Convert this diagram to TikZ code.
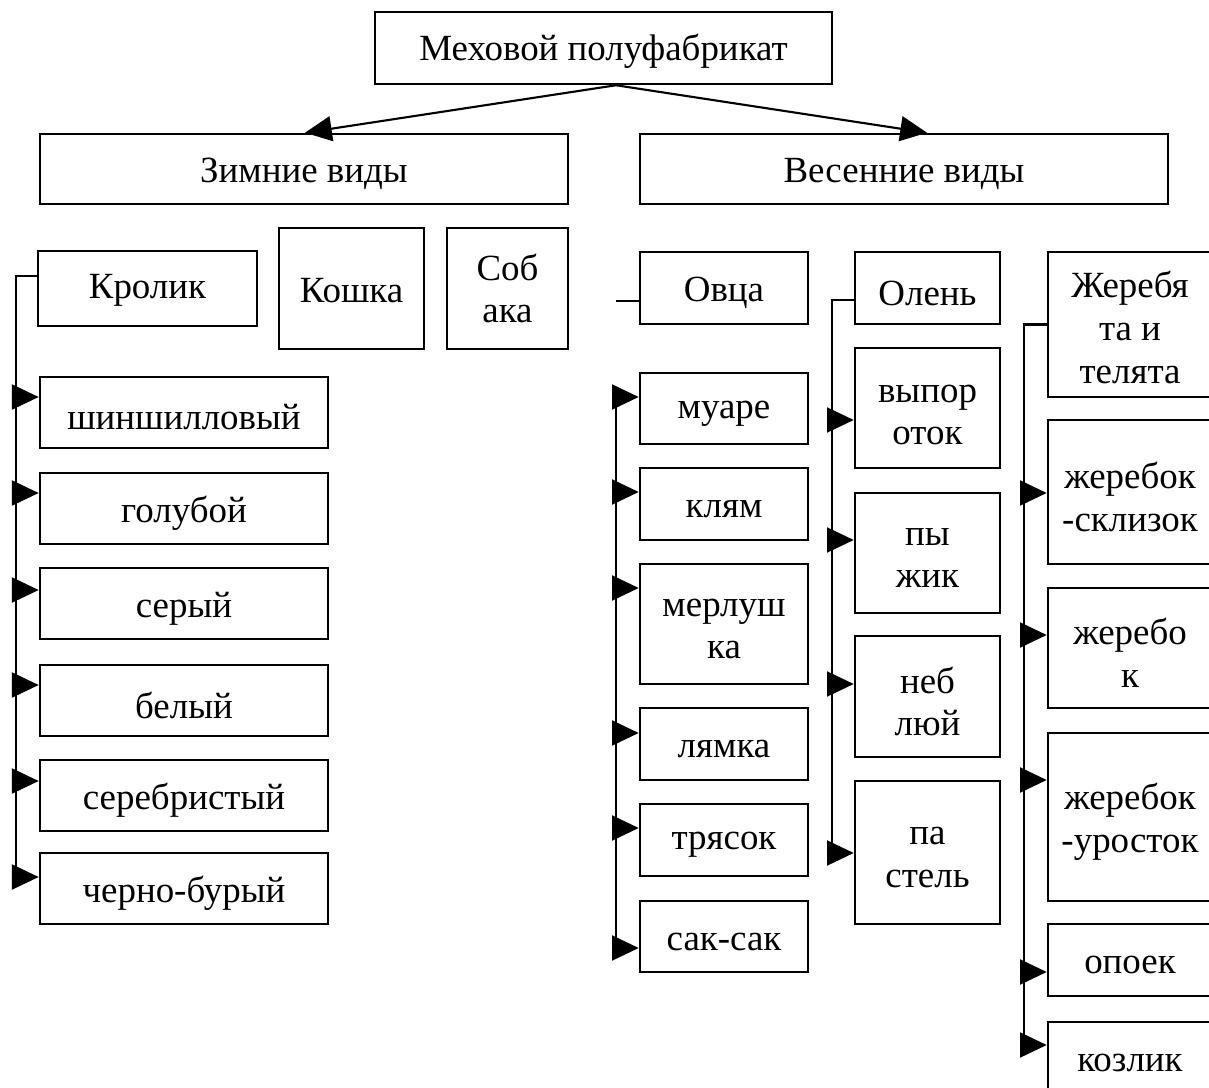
\documentclass[tikz,border=0pt]{standalone}
\usepackage{fontspec}
\setmainfont{Liberation Serif}
\usetikzlibrary{arrows.meta}

\begin{document}
\begin{tikzpicture}[x=0.01cm,y=-0.01cm,font=\fontsize{10.5pt}{12.2pt}\selectfont,
  furbox/.style={draw,line width=0.7pt,inner sep=0pt},
  furtext/.style={align=center,yshift=-0.05cm},
  link/.style={line width=0.6pt},
  feed/.style={line width=0.6pt,-{Triangle[length=7.6pt,width=7.1pt]}}]
  \useasboundingbox (0,0) rectangle (1209,1088);
  \clip (0,0) rectangle (1209,1088);

  % top level
  \node[furbox,minimum width=4.57cm,minimum height=0.72cm,label={[furtext,yshift=0.02cm]center:Меховой полуфабрикат}] (top) at (603.5,48) {};
  \node[furbox,minimum width=5.28cm,minimum height=0.70cm,label={[furtext]center:Зимние виды}] (zim) at (304,169) {};
  \node[furbox,minimum width=5.28cm,minimum height=0.70cm,label={[furtext]center:Весенние виды}] (ves) at (904,169) {};
  \draw[feed] (top.south -| 616,0) -- (zim.north -| 305,0);
  \draw[feed] (top.south -| 616,0) -- (ves.north -| 927,0);

  % winter kinds
  \node[furbox,minimum width=2.19cm,minimum height=0.75cm,label={[furtext,yshift=0.03cm]center:Кролик}] (krol) at (147.5,288.5) {};
  \node[furbox,minimum width=1.45cm,minimum height=1.21cm,label={[furtext,yshift=0.03cm]center:Кошка}] (kosh) at (351.5,288.5) {};
  \node[furbox,minimum width=1.21cm,minimum height=1.21cm,label={[furtext,yshift=0.05cm]center:Соб\\ака}] (sob) at (507.5,288.5) {};
  \draw[link] (krol.west |- 0,276) -- (16,276) -- (16,877);
  \foreach \nm/\txt/\yc/\ya in {shin/шиншилловый/412.5/397, golub/голубой/508.5/493,
      ser/серый/603.5/590, bel/белый/700.5/685, sereb/серебристый/795.5/781,
      chern/черно-бурый/888.5/877} {
    \node[furbox,minimum width=2.88cm,minimum height=0.71cm,label={[furtext]center:\txt}] (\nm) at (184,\yc) {};
    \draw[feed] (16,\ya) -- (\nm.west |- 0,\ya);
  }

  % sheep
  \node[furbox,minimum width=1.68cm,minimum height=0.72cm,label={[furtext]center:Овца}] (ovca) at (724,288) {};
  \draw[link] (ovca.west |- 0,301) -- (616,301);
  \node[furbox,minimum width=1.68cm,minimum height=0.71cm,label={[furtext]center:муаре}] (muare) at (724,408.5) {};
  \node[furbox,minimum width=1.68cm,minimum height=0.72cm,label={[furtext]center:клям}] (klyam) at (724,504) {};
  \node[furbox,minimum width=1.68cm,minimum height=1.20cm,label={[furtext]center:мерлуш\\ка}] (merl) at (724,624) {};
  \node[furbox,minimum width=1.68cm,minimum height=0.72cm,label={[furtext]center:лямка}] (lyamka) at (724,744) {};
  \node[furbox,minimum width=1.68cm,minimum height=0.72cm,label={[furtext]center:трясок}] (tryas) at (724,840) {};
  \node[furbox,minimum width=1.68cm,minimum height=0.71cm,label={[furtext]center:сак-сак}] (saksak) at (724,936.5) {};
  \draw[link] (616,397) -- (616,948);
  \foreach \nm/\ya in {muare/397, klyam/492, merl/588, lyamka/733, tryas/828, saksak/948}
    \draw[feed] (616,\ya) -- (\nm.west |- 0,\ya);

  % deer
  \node[furbox,minimum width=1.45cm,minimum height=0.72cm,label={[furtext]center:Олень}] (olen) at (927.5,288) {};
  \node[furbox,minimum width=1.45cm,minimum height=1.20cm,label={[furtext,yshift=-0.02cm]center:выпор\\оток}] (vyp) at (927.5,408) {};
  \node[furbox,minimum width=1.45cm,minimum height=1.20cm,label={[furtext]center:пы\\жик}] (pyzh) at (927.5,553) {};
  \node[furbox,minimum width=1.45cm,minimum height=1.21cm,label={[furtext]center:неб\\люй}] (nebl) at (927.5,696.5) {};
  \node[furbox,minimum width=1.45cm,minimum height=1.43cm,label={[furtext]center:па\\стель}] (past) at (927.5,852.5) {};
  \draw[link] (olen.west |- 0,300) -- (832,300) -- (832,853);
  \foreach \nm/\ya in {vyp/420, pyzh/540, nebl/684, past/853}
    \draw[feed] (832,\ya) -- (\nm.west |- 0,\ya);

  % foals and calves
  \node[furbox,minimum width=1.64cm,minimum height=1.45cm,label={[furtext,yshift=0.02cm]center:Жеребя\\та и\\телята}] (zher) at (1130,324.5) {};
  \node[furbox,minimum width=1.64cm,minimum height=1.44cm,label={[furtext]center:жеребок\\-склизок}] (sklz) at (1130,492) {};
  \node[furbox,minimum width=1.64cm,minimum height=1.20cm,label={[furtext]center:жеребо\\к}] (zhb) at (1130,648) {};
  \node[furbox,minimum width=1.64cm,minimum height=1.68cm,label={[furtext]center:жеребок\\-уросток}] (uros) at (1130,817) {};
  \node[furbox,minimum width=1.64cm,minimum height=0.72cm,label={[furtext]center:опоек}] (opoek) at (1130,960) {};
  \node[furbox,minimum width=1.64cm,minimum height=0.72cm,label={[furtext]center:козлик}] (kozl) at (1130,1058) {};
  \draw[link] (zher.west) -- (1024,324.5) -- (1024,1045);
  \foreach \nm/\ya in {sklz/493, zhb/635, uros/780, opoek/972, kozl/1045}
    \draw[feed] (1024,\ya) -- (\nm.west |- 0,\ya);
\end{tikzpicture}
\end{document}
